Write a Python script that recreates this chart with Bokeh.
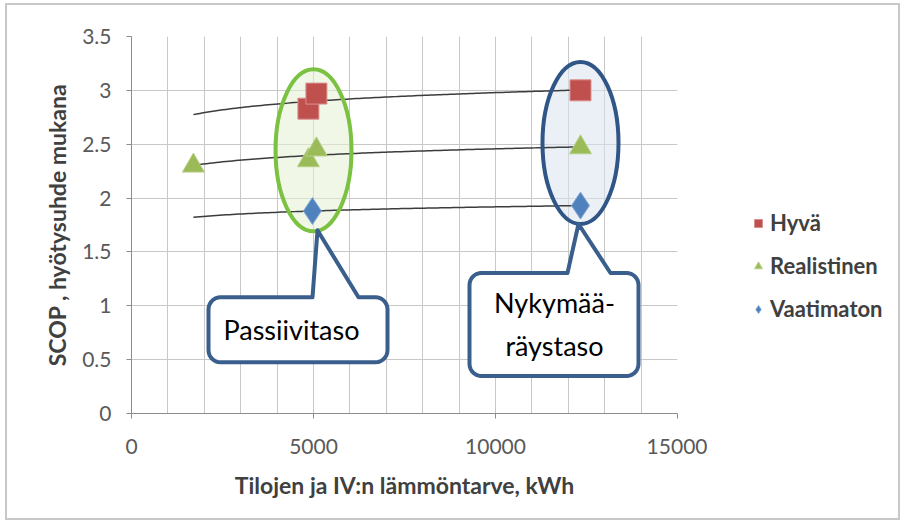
import numpy as np
from bokeh.plotting import figure
from bokeh.layouts import row
from bokeh.models import Legend, LegendItem, FixedTicker, Range1d, NumeralTickFormatter
from bokeh.embed import file_html
from bokeh.resources import INLINE
from bokeh.core.properties import value

# ---------------- data ----------------
series_names = ["Hyvä", "Realistinen", "Vaatimaton"]
hyva_x = [4860, 5080, 12335]
hyva_y = [2.83, 2.97, 3.00]
real_x = [1700, 4860, 5080, 12335]
real_y = [2.30, 2.35, 2.45, 2.47]
vaat_x = [4970, 12335]
vaat_y = [1.88, 1.93]

level_names = ["Passiivitaso", "Nykymää-\nräystaso"]
level_x = [5000, 12335]

x_ticks = [0, 5000, 10000, 15000]
y_ticks = [0, 0.5, 1, 1.5, 2, 2.5, 3, 3.5]
x_label = "Tilojen ja IV:n lämmöntarve, kWh"
y_label = "SCOP , hyötysuhde mukana"

# ---------------- styles ----------------
FONT = "Lato"
W, H = 700, 513
LEG_W = 191
FRAME_L, FRAME_R, FRAME_T, FRAME_B = 124, 30, 31, 105
FRAME_W = W - FRAME_L - FRAME_R
FRAME_H = H - FRAME_T - FRAME_B
X_MAX, Y_MAX = 15000, 3.5
PX_X = FRAME_W / X_MAX
PX_Y = FRAME_H / Y_MAX

RED, GREEN, BLUE = "#c0504d", "#9bbb59", "#4f81bd"
ELL_COLORS = ["#7cc242", "#2f5687"]
ELL_FILLS = ["#e3f0d3", "#dbe4f1"]
CALLOUT_LINE = "#3a5f8c"
MARKERS = [dict(marker="square", size=21, fill_color=RED, line_color="#d9918f"),
           dict(marker="triangle", size=22, fill_color=GREEN, line_color="#b7d08a"),
           dict(marker="diamond", size=27, fill_color=BLUE, line_color="#86a8d6")]

p = figure(width=W, height=H, output_backend="svg", toolbar_location=None,
           x_range=Range1d(0, X_MAX), y_range=Range1d(0, Y_MAX),
           min_border_left=FRAME_L, min_border_right=FRAME_R,
           min_border_top=FRAME_T, min_border_bottom=FRAME_B)
p.outline_line_color = None

# grid
p.xgrid.ticker = FixedTicker(ticks=list(range(0, X_MAX + 1, 1000)))
p.ygrid.ticker = FixedTicker(ticks=y_ticks)
for g in (p.xgrid, p.ygrid):
    g.grid_line_color = "#c8c8c8"
    g.grid_line_width = 1

# axes
p.xaxis.ticker = FixedTicker(ticks=x_ticks)
p.yaxis.ticker = FixedTicker(ticks=y_ticks)
p.xaxis.formatter = NumeralTickFormatter(format="0")
p.yaxis.formatter = NumeralTickFormatter(format="0.[0]")
for ax in (p.xaxis, p.yaxis):
    ax.axis_line_color = "#8c8c8c"
    ax.major_tick_line_color = "#8c8c8c"
    ax.major_tick_out = 5
    ax.major_tick_in = 0
    ax.minor_tick_line_color = None
    ax.major_label_text_font = FONT
    ax.major_label_text_font_size = "21px"
    ax.major_label_text_color = "#595959"
    ax.axis_label_text_font = FONT
    ax.axis_label_text_font_size = "23px"
    ax.axis_label_text_font_style = "bold"
    ax.axis_label_text_color = "#404040"
p.xaxis.axis_label = x_label
p.yaxis.axis_label = y_label
p.xaxis.major_label_standoff = 20
p.xaxis.axis_label_standoff = 14
p.yaxis.major_label_standoff = 15
p.yaxis.axis_label_standoff = 8

# ellipses (background fill)
all_x = hyva_x + real_x + vaat_x
all_y = hyva_y + real_y + vaat_y
ell_w, ell_h = 76, 162
ell_dy = [-2, -5]
ell_cx, ell_cy = [], []
for lx, dy in zip(level_x, ell_dy):
    ys = [y for x, y in zip(all_x, all_y) if abs(x - lx) < 1000]
    ell_cx.append(lx)
    ell_cy.append((min(ys) + max(ys)) / 2 - dy / PX_Y)
p.ellipse(x=ell_cx, y=ell_cy, width=ell_w, height=ell_h,
          width_units="screen", height_units="screen",
          fill_color=ELL_FILLS, fill_alpha=0.55, line_color=None)

# trend lines (logarithmic fits)
series = [(hyva_x, hyva_y), (real_x, real_y), (vaat_x, vaat_y)]
xs = np.linspace(min(all_x), max(all_x), 120)
for sx_, sy_ in series:
    b, a = np.polyfit(np.log(sx_), sy_, 1)
    p.line(xs, a + b * np.log(xs), line_color="#3c3c3c", line_width=1.5)

# markers
for (sx_, sy_), m in zip(series, MARKERS):
    p.scatter(sx_, sy_, line_width=1, **m)

# ellipse outlines
p.ellipse(x=ell_cx, y=ell_cy, width=ell_w, height=ell_h,
          width_units="screen", height_units="screen",
          fill_color=None, line_color=ELL_COLORS, line_width=4)

# callouts
callouts = [
    dict(tip=(4, -1), L=-105, R=74, T=66, B=131, base=(-1, 45), text=(-22, 98)),
    dict(tip=(-2, 0), L=-111, R=58, T=49, B=152, base=(-13, 30), text=(-26, 100)),
]
RAD = 12


def arc(cx, cy, a0, a1, n=8):
    t = np.linspace(a0, a1, n)
    return list(cx + RAD * np.cos(t)), list(cy + RAD * np.sin(t))


for i, c in enumerate(callouts):
    bx_data = ell_cx[i]
    by_data = ell_cy[i] - (ell_h / 2) / PX_Y
    L, R, T, B = c["L"], c["R"], c["T"], c["B"]
    px, py = [], []
    px += [c["base"][0], c["tip"][0], c["base"][1]]
    py += [T, c["tip"][1], T]
    ax_, ay_ = arc(R - RAD, T + RAD, -np.pi / 2, 0)
    px += ax_; py += ay_
    ax_, ay_ = arc(R - RAD, B - RAD, 0, np.pi / 2)
    px += ax_; py += ay_
    ax_, ay_ = arc(L + RAD, B - RAD, np.pi / 2, np.pi)
    px += ax_; py += ay_
    ax_, ay_ = arc(L + RAD, T + RAD, np.pi, 1.5 * np.pi)
    px += ax_; py += ay_
    px.append(c["base"][0]); py.append(T)
    dx = [bx_data + v / PX_X for v in px]
    dy = [by_data - v / PX_Y for v in py]
    p.patch(dx, dy, fill_color="white", line_color=CALLOUT_LINE,
            line_width=4, line_join="round")
    tx = bx_data + c["text"][0] / PX_X
    ty = by_data - c["text"][1] / PX_Y
    p.text([tx], [ty], text=[level_names[i]], text_font=value(FONT),
           text_font_size="27px", text_color="black", text_align="center",
           text_baseline="middle", text_line_height=1.3)

# legend figure (right of the chart)
lf = figure(width=LEG_W, height=H, output_backend="svg", toolbar_location=None,
            x_range=Range1d(0, 1), y_range=Range1d(0, 1),
            x_axis_type=None, y_axis_type=None,
            min_border_left=0, min_border_right=0,
            min_border_top=0, min_border_bottom=0)
lf.outline_line_color = None
lf.grid.visible = False
leg_rs = [lf.scatter(sx_, sy_, line_width=1, **m) for (sx_, sy_), m in zip(series, MARKERS)]
legend = Legend(items=[LegendItem(label=n, renderers=[r]) for n, r in zip(series_names, leg_rs)],
                location=(41, 91))
legend.label_text_font = FONT
legend.label_text_font_size = "22px"
legend.label_text_color = "#404040"
legend.label_text_font_style = "bold"
legend.glyph_width = 20
legend.glyph_height = 22
legend.label_height = 22
legend.spacing = 16
legend.padding = 0
legend.margin = 0
legend.label_standoff = 2
legend.border_line_color = None
legend.background_fill_alpha = 0
lf.add_layout(legend)

layout = row(p, lf)
layout.styles = {"border": "2px solid #c8c8c8", "margin-left": "5px", "margin-top": "3px"}

open("out.html", "w").write(file_html(layout, INLINE))
